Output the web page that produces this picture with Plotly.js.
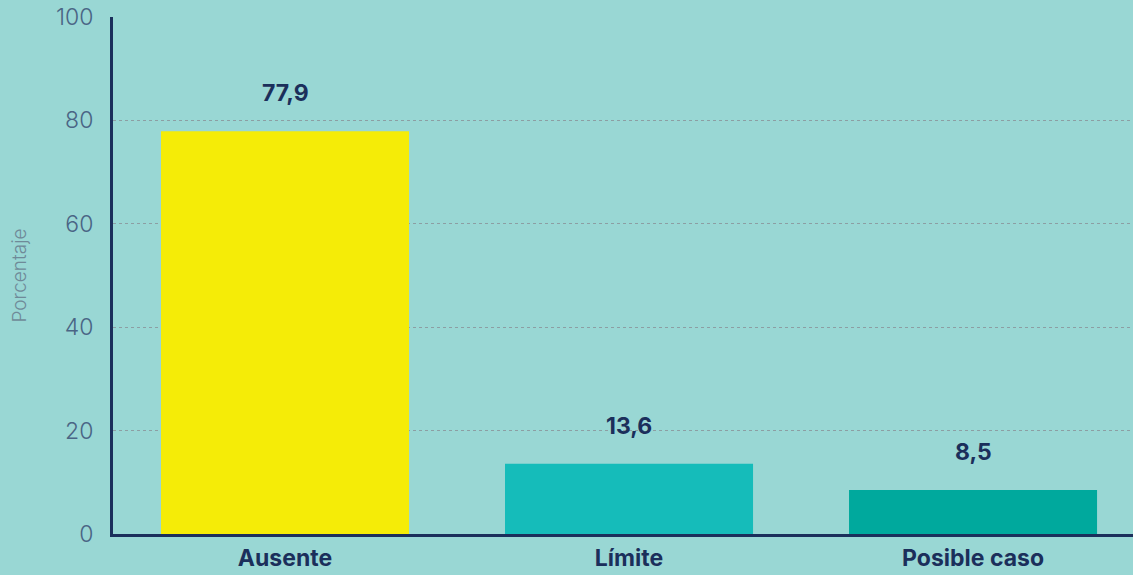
<!DOCTYPE html>
<html>
<head>
<meta charset="utf-8">
<script src="https://cdn.plot.ly/plotly-3.0.1.min.js"></script>
<style>
html,body{margin:0;padding:0;background:#99d7d4;}
#chart{width:1133px;height:575px;}
</style>
</head>
<body>
<div id="chart"></div>
<script>
const categories = ['Ausente', 'Límite', 'Posible caso'];
const values = [77.9, 13.6, 8.5];
const valueLabels = ['77,9', '13,6', '8,5'];
const barColors = ['#f5ec07', '#15bcba', '#00a99d'];
const yTickVals = [0, 20, 40, 60, 80, 100];
const yTitle = 'Porcentaje';

const trace = {
  type: 'bar',
  x: categories,
  y: values,
  width: 0.721,
  marker: {color: barColors, line: {width: 0}},
  hoverinfo: 'none'
};

const annotations = categories.map((c, i) => ({
  x: c, y: values[i], xref: 'x', yref: 'y',
  text: valueLabels[i], showarrow: false,
  yshift: 38,
  font: {family: 'Inter, sans-serif', size: 23, color: '#1b2f5b', weight: 700}
}));
annotations.push({
  xref: 'paper', yref: 'paper', x: -0.0912, y: 0.5,
  xanchor: 'center', yanchor: 'middle', textangle: -90,
  text: yTitle, showarrow: false,
  font: {family: 'Inter, sans-serif', size: 19, color: '#6f8a98', weight: 300}
});

const layout = {
  width: 1133, height: 575,
  margin: {l: 113, r: 0, t: 17, b: 41},
  paper_bgcolor: '#99d7d4',
  plot_bgcolor: 'rgba(0,0,0,0)',
  showlegend: false,
  xaxis: {
    type: 'category',
    range: [-0.5, 2.465],
    showgrid: false,
    showline: true, linecolor: '#1b2f5b', linewidth: 3,
    ticks: '',
    tickfont: {family: 'Inter, sans-serif', size: 23, color: '#1b2f5b', weight: 700},
    ticklabelstandoff: 1,
    zeroline: false,
    fixedrange: true
  },
  yaxis: {
    range: [0, 100],
    tickvals: yTickVals,
    showgrid: true, gridcolor: '#8c9ea3', griddash: 'dot', gridwidth: 1,
    showline: true, linecolor: '#1b2f5b', linewidth: 3,
    ticks: '',
    ticklabelstandoff: 12,
    tickfont: {family: 'Inter, sans-serif', size: 23, color: '#4a6585', weight: 300},
    zeroline: false,
    fixedrange: true
  },
  annotations: annotations,
  bargap: 0.28
};

Plotly.newPlot('chart', [trace], layout, {displayModeBar: false, staticPlot: true});
</script>
</body>
</html>
